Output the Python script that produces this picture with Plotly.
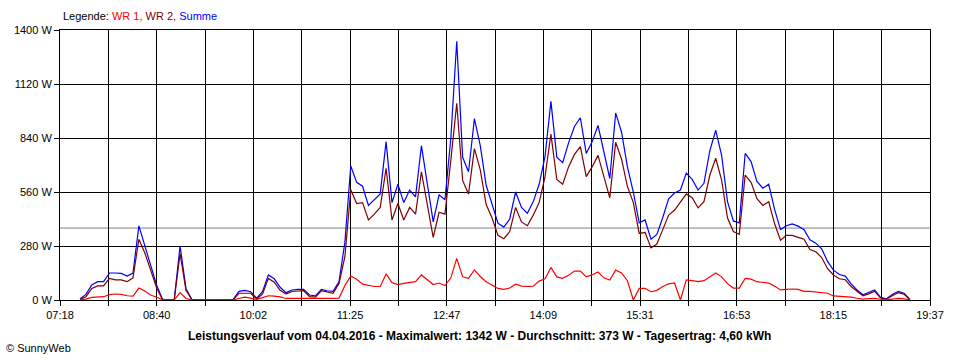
import numpy as np
import plotly.graph_objects as go

# ---- data (5-minute samples starting 07:35) ----
start_minute = 7 * 60 + 35
step_minutes = 5

summe = [
    5, 29, 78, 95, 95, 140, 140, 138, 124, 140,
    384, 285, 181, 78, 5, 0, 0, 280, 60, 3,
    0, 0, 0, 0, 0, 0, 2, 45, 50, 43,
    9, 43, 130, 110, 66, 38, 52, 55, 55, 26,
    21, 55, 48, 45, 95, 300, 695, 610, 590, 490,
    520, 550, 821, 505, 600, 505, 570, 535, 800, 605,
    405, 545, 520, 840, 1342, 740, 665, 940, 800, 595,
    500, 398, 378, 420, 560, 480, 450, 510, 600, 745,
    1030, 740, 712, 815, 900, 945, 760, 820, 905, 760,
    630, 970, 870, 690, 560, 400, 415, 315, 340, 428,
    525, 555, 570, 658, 625, 570, 605, 775, 880, 750,
    510, 410, 400, 760, 718, 615, 580, 600, 470, 365,
    385, 395, 383, 365, 312, 295, 265, 200, 155, 132,
    124, 84, 52, 27, 40, 52, 14, 6, 28, 45,
    35, 3,
]

wr2 = [
    3, 17, 60, 73, 73, 112, 104, 104, 95, 115,
    315, 245, 155, 64, 3, 0, 0, 240, 50, 2,
    0, 0, 0, 0, 0, 0, 1, 35, 35, 35,
    5, 30, 112, 92, 50, 31, 44, 47, 48, 17,
    15, 48, 40, 35, 86, 225, 572, 500, 505, 415,
    445, 480, 683, 415, 500, 415, 480, 445, 665, 500,
    325, 455, 445, 725, 1020, 620, 550, 785, 675, 495,
    425, 335, 318, 355, 480, 405, 385, 440, 505, 640,
    860, 625, 600, 690, 755, 795, 640, 690, 750, 640,
    530, 818, 730, 588, 505, 345, 350, 270, 290, 365,
    440, 465, 510, 550, 530, 478, 510, 648, 735, 622,
    425, 355, 340, 648, 610, 525, 490, 510, 395, 310,
    335, 335, 325, 315, 262, 250, 220, 162, 130, 110,
    105, 70, 45, 22, 32, 45, 10, 4, 22, 38,
    30, 2,
]

wr1 = [
    1, 5, 14, 17, 17, 28, 31, 29, 22, 20,
    62, 47, 26, 14, 2, 0, 0, 38, 8, 1,
    0, 0, 0, 0, 0, 0, 1, 8, 15, 10,
    3, 12, 22, 20, 16, 8, 8, 8, 7, 7,
    6, 7, 7, 8, 10, 75, 124, 108, 82, 75,
    70, 70, 135, 90, 80, 86, 92, 95, 130, 105,
    80, 88, 75, 115, 216, 120, 112, 156, 122, 95,
    78, 60, 55, 62, 82, 72, 70, 72, 98, 110,
    169, 120, 112, 128, 150, 150, 120, 130, 145, 115,
    104, 155, 140, 100, 0, 60, 60, 43, 50, 70,
    84, 88, 0, 104, 100, 95, 100, 121, 140, 120,
    85, 62, 62, 112, 108, 95, 90, 88, 72, 52,
    55, 57, 55, 45, 45, 42, 40, 35, 21, 20,
    18, 15, 9, 5, 7, 8, 4, 2, 5, 8,
    6, 1,
]

x_tick_labels = ["07:18", "08:40", "10:02", "11:25", "12:47",
                 "14:09", "15:31", "16:53", "18:15", "19:37"]
y_tick_values = [0, 280, 560, 840, 1120, 1400]
average_w = 373
title_text = ("Leistungsverlauf vom 04.04.2016 - Maximalwert: 1342 W - "
              "Durchschnitt: 373 W - Tagesertrag: 4,60 kWh")

# ---- derived axis positions ----
minutes = start_minute + step_minutes * np.arange(len(summe))
x_min = 7 * 60 + 18
x_max = 19 * 60 + 37
n_int = 18
tickvals = np.linspace(x_min, x_max, n_int + 1)
ticktext = [x_tick_labels[i // 2] if i % 2 == 0 else "" for i in range(n_int + 1)]
y_ticktext = [f"{v} W" for v in y_tick_values]

FONT = "Liberation Sans, Arial, sans-serif"

fig = go.Figure()
fig.add_trace(go.Scatter(x=minutes, y=summe, mode="lines", name="Summe",
                         line=dict(color="#0000FF", width=1.2)))
fig.add_trace(go.Scatter(x=minutes, y=wr2, mode="lines", name="WR 2",
                         line=dict(color="#800000", width=1.2)))
fig.add_trace(go.Scatter(x=minutes, y=wr1, mode="lines", name="WR 1",
                         line=dict(color="#FF0000", width=1.2)))

L, R, T, B = 60, 30, 30, 60
W, H = 960, 360
pw, ph = W - L - R, H - T - B


def px(xp):
    return (xp - L) / pw


def py(yp):
    return (H - B - yp) / ph


fig.add_shape(type="line", xref="x", yref="y", x0=x_min, x1=x_max,
              y0=average_w, y1=average_w,
              line=dict(color="#808080", width=1), layer="below")

fig.add_annotation(xref="paper", yref="paper", x=px(61), y=py(16.5),
                   xanchor="left", yanchor="middle", showarrow=False,
                   text=('Legende: <span style="color:#FF0000">WR 1,</span> '
                         '<span style="color:#800000">WR 2,</span> '
                         '<span style="color:#0000FF">Summe</span>'),
                   font=dict(family=FONT, size=11, color="black"))
fig.add_annotation(xref="paper", yref="paper", x=px(479), y=py(336),
                   xanchor="center", yanchor="middle", showarrow=False,
                   text="<b>" + title_text + "</b>",
                   font=dict(family=FONT, size=12, color="black"))
fig.add_annotation(xref="paper", yref="paper", x=px(4), y=py(348),
                   xanchor="left", yanchor="middle", showarrow=False,
                   text="© SunnyWeb",
                   font=dict(family=FONT, size=11, color="black"))

axis_common = dict(showgrid=True, gridcolor="black", gridwidth=1,
                   showline=True, linecolor="black", linewidth=1, mirror=True,
                   ticks="outside", ticklen=5, tickcolor="black", tickwidth=1,
                   zeroline=False, fixedrange=True,
                   tickfont=dict(family=FONT, size=11, color="black"))

fig.update_layout(
    width=W, height=H, autosize=False,
    margin=dict(l=L, r=R, t=T, b=B, pad=0),
    paper_bgcolor="white", plot_bgcolor="white",
    showlegend=False,
    font=dict(family=FONT, size=11, color="black"),
    xaxis=dict(range=[x_min, x_max], tickmode="array", tickvals=tickvals,
               ticktext=ticktext, **axis_common),
    yaxis=dict(range=[0, 1400], tickmode="array", tickvals=y_tick_values,
               ticktext=y_ticktext, **axis_common),
)

fig.write_html("out.html",
               config={"displayModeBar": False, "staticPlot": True},
               post_script="document.body.style.margin='0px';"
                           "document.body.style.overflow='hidden';")
